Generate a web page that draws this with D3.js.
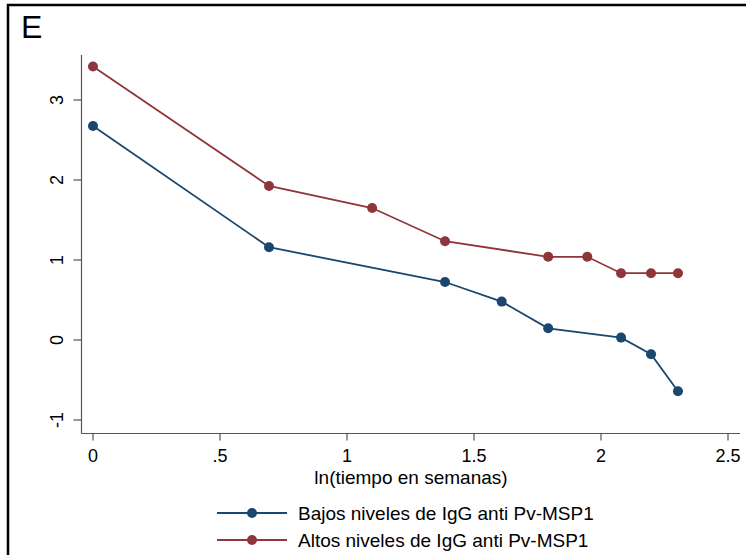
<!DOCTYPE html>
<html>
<head>
<meta charset="utf-8">
<script src="https://cdn.jsdelivr.net/npm/d3@7"></script>
<style>
  body { margin: 0; background: #fff; }
  svg text { font-family: "Liberation Sans", Arial, sans-serif; fill: #000; }
</style>
</head>
<body>
<script>
// ln(weeks) at each visit
var xBajos = [0, 0.693, 1.386, 1.609, 1.792, 2.079, 2.197, 2.303];
var yBajos = [2.675, 1.16, 0.725, 0.48, 0.146, 0.03, -0.178, -0.64];
var xAltos = [0, 0.693, 1.099, 1.386, 1.792, 1.946, 2.079, 2.197, 2.303];
var yAltos = [3.418, 1.925, 1.65, 1.235, 1.04, 1.04, 0.835, 0.835, 0.835];

var xTicks = [0, 0.5, 1, 1.5, 2, 2.5];
var xTickLabels = ["0", ".5", "1", "1.5", "2", "2.5"];
var yTicks = [-1, 0, 1, 2, 3];

var seriesNames = ["Bajos niveles de IgG anti Pv-MSP1", "Altos niveles de IgG anti Pv-MSP1"];
var colors = ["#1a476f", "#90353b"];

var width = 746, height = 555;

var svg = d3.select("body").append("svg")
    .attr("width", width)
    .attr("height", height);

// outer frame (runs off the right and bottom edge)
svg.append("rect")
    .attr("x", 8).attr("y", 5)
    .attr("width", 760).attr("height", 570)
    .attr("fill", "none")
    .attr("stroke", "#000")
    .attr("stroke-width", 2.5);

svg.append("text")
    .attr("x", 21).attr("y", 38)
    .style("font-size", "32px")
    .text("E");

var x = d3.scaleLinear().domain([0, 2.5]).range([93, 728]);
var y = d3.scaleLinear().domain([-1, 3]).range([420, 100]);

var axisX = 81.5, axisY = 433.5;

// y axis
var gy = svg.append("g").attr("transform", "translate(" + axisX + ",0)");
gy.append("line").attr("y1", 55).attr("y2", axisY).attr("stroke", "#555").attr("stroke-width", 1.2);
gy.selectAll("line.tick").data(yTicks).enter().append("line")
    .attr("class", "tick")
    .attr("x1", -8).attr("x2", 0)
    .attr("y1", function(d){ return y(d); })
    .attr("y2", function(d){ return y(d); })
    .attr("stroke", "#555").attr("stroke-width", 1.2);
gy.selectAll("text").data(yTicks).enter().append("text")
    .attr("transform", function(d){ return "translate(-19," + y(d) + ") rotate(-90)"; })
    .attr("text-anchor", "middle")
    .style("font-size", "18px")
    .text(function(d){ return d; });

// x axis
var gx = svg.append("g").attr("transform", "translate(0," + axisY + ")");
gx.append("line").attr("x1", axisX).attr("x2", 740).attr("stroke", "#555").attr("stroke-width", 1.2);
gx.selectAll("line.tick").data(xTicks).enter().append("line")
    .attr("class", "tick")
    .attr("x1", function(d){ return x(d); })
    .attr("x2", function(d){ return x(d); })
    .attr("y1", 0).attr("y2", 7)
    .attr("stroke", "#555").attr("stroke-width", 1.2);
gx.selectAll("text").data(xTicks).enter().append("text")
    .attr("x", function(d){ return x(d); })
    .attr("y", 28.5)
    .attr("text-anchor", "middle")
    .style("font-size", "18px")
    .text(function(d, i){ return xTickLabels[i]; });

svg.append("text")
    .attr("x", 411).attr("y", 484)
    .attr("text-anchor", "middle")
    .style("font-size", "19px")
    .text("ln(tiempo en semanas)");

var line = d3.line()
    .x(function(d){ return x(d[0]); })
    .y(function(d){ return y(d[1]); });

var series = [d3.zip(xBajos, yBajos), d3.zip(xAltos, yAltos)];

series.forEach(function(pts, i) {
  svg.append("path")
      .datum(pts)
      .attr("d", line)
      .attr("fill", "none")
      .attr("stroke", colors[i])
      .attr("stroke-width", 1.8);
  svg.selectAll("circle.s" + i).data(pts).enter().append("circle")
      .attr("class", "s" + i)
      .attr("cx", function(d){ return x(d[0]); })
      .attr("cy", function(d){ return y(d[1]); })
      .attr("r", 5)
      .attr("fill", colors[i]);
});

// legend
var leg = svg.selectAll("g.leg").data(seriesNames).enter().append("g")
    .attr("class", "leg")
    .attr("transform", function(d, i){ return "translate(0," + (513 + i * 27) + ")"; });
leg.append("line")
    .attr("x1", 217).attr("x2", 287)
    .attr("stroke", function(d, i){ return colors[i]; })
    .attr("stroke-width", 1.8);
leg.append("circle")
    .attr("cx", 252).attr("r", 5)
    .attr("fill", function(d, i){ return colors[i]; });
leg.append("text")
    .attr("x", 298).attr("y", 7)
    .style("font-size", "19px")
    .text(function(d){ return d; });
</script>
</body>
</html>
